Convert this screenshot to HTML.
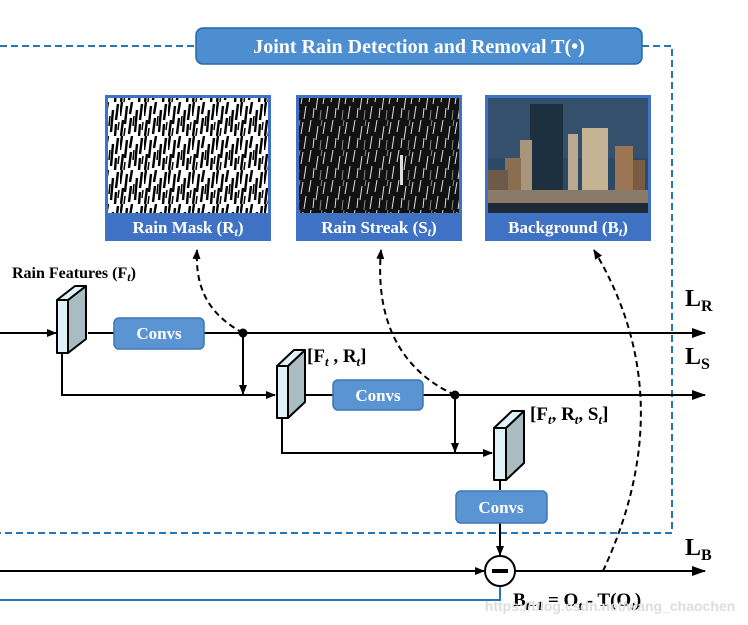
<!DOCTYPE html>
<html><head><meta charset="utf-8"><style>
html,body{margin:0;padding:0;background:#fff;}
svg{display:block;}
text{font-family:"Liberation Serif",serif;font-weight:bold;}
</style></head><body>
<svg width="748" height="625" viewBox="0 0 748 625" xmlns="http://www.w3.org/2000/svg">
<defs>
<marker id="ar" markerWidth="10" markerHeight="8" refX="9" refY="4" orient="auto" markerUnits="userSpaceOnUse">
<path d="M0,0 L10,4 L0,8 z" fill="#000"/></marker>
<marker id="ar2" markerWidth="14" markerHeight="10" refX="13" refY="5" orient="auto" markerUnits="userSpaceOnUse">
<path d="M0,0 L14,5 L0,10 z" fill="#000"/></marker>
<pattern id="mask" width="24" height="34" patternUnits="userSpaceOnUse">
<rect width="24" height="34" fill="#fff"/>
<g stroke="#000" stroke-width="2.4">
<line x1="2" y1="0" x2="0" y2="14"/><line x1="7" y1="4" x2="5" y2="22"/><line x1="12" y1="0" x2="10" y2="12"/>
<line x1="17" y1="8" x2="15" y2="30"/><line x1="22" y1="2" x2="20" y2="18"/><line x1="3" y1="18" x2="1" y2="34"/>
<line x1="11" y1="16" x2="9" y2="32"/><line x1="20" y1="22" x2="19" y2="34"/></g>
<g stroke="#000" stroke-width="1.5"><line x1="14" y1="14" x2="13" y2="24"/><line x1="5" y1="26" x2="4" y2="34"/><line x1="23" y1="20" x2="22" y2="28"/></g>
</pattern>
<pattern id="streak" width="22" height="30" patternUnits="userSpaceOnUse">
<rect width="22" height="30" fill="#111"/>
<g stroke="#ddd" stroke-width="1">
<line x1="3" y1="0" x2="1" y2="12"/><line x1="10" y1="6" x2="8" y2="20"/><line x1="17" y1="2" x2="15" y2="14"/>
<line x1="6" y1="18" x2="5" y2="28"/><line x1="20" y1="16" x2="18" y2="29"/></g>
<g stroke="#888" stroke-width="1"><line x1="13" y1="20" x2="12" y2="30"/><line x1="14" y1="0" x2="13" y2="6"/></g>
</pattern>
</defs>

<g stroke="#2477b8" stroke-width="2" fill="none" stroke-dasharray="7,4">
<path d="M0,46 H196"/><path d="M642,46 H672 V533 H0"/>
</g>
<rect x="196" y="28" width="446" height="36" rx="7" fill="#4d8ed0" stroke="#2a66a8" stroke-width="1.5"/>
<text x="419" y="53" font-size="20" fill="#fff" text-anchor="middle">Joint Rain Detection and Removal T(•)</text>

<rect x="105" y="95" width="166" height="146" fill="#3f72c4"/>
<rect x="108" y="98" width="160" height="115" fill="url(#mask)"/>
<text x="188" y="233" font-size="17" fill="#fff" text-anchor="middle">Rain Mask (R<tspan font-style="italic" font-size="12" dy="3">t</tspan><tspan dy="-3">)</tspan></text>

<rect x="296" y="95" width="166" height="146" fill="#3f72c4"/>
<rect x="299" y="98" width="160" height="115" fill="url(#streak)"/>
<rect x="400" y="155" width="3" height="30" fill="#ddd"/>
<text x="379" y="233" font-size="17" fill="#fff" text-anchor="middle">Rain Streak (S<tspan font-style="italic" font-size="12" dy="3">t</tspan><tspan dy="-3">)</tspan></text>

<rect x="485" y="95" width="166" height="146" fill="#3f72c4"/>
<rect x="488" y="98" width="160" height="115" fill="#2c4a66"/>
<rect x="488" y="98" width="160" height="60" fill="#34506c"/>
<rect x="530" y="104" width="33" height="92" fill="#1d3040"/>
<rect x="520" y="140" width="12" height="56" fill="#a8957a"/>
<rect x="505" y="158" width="16" height="38" fill="#8a6e52"/>
<rect x="568" y="134" width="10" height="60" fill="#b9a98e"/>
<rect x="582" y="128" width="26" height="70" fill="#c5b394"/>
<rect x="615" y="146" width="18" height="50" fill="#9c7652"/>
<rect x="633" y="160" width="12" height="36" fill="#7a5c44"/>
<rect x="488" y="170" width="20" height="28" fill="#6e5a48"/>
<rect x="488" y="190" width="160" height="13" fill="#8a7a6a"/>
<rect x="488" y="203" width="160" height="10" fill="#1e2a36"/>
<text x="568" y="233" font-size="17" fill="#fff" text-anchor="middle">Background (B<tspan font-style="italic" font-size="12" dy="3">t</tspan><tspan dy="-3">)</tspan></text>

<text x="12" y="278" font-size="16">Rain Features (F<tspan font-style="italic" font-size="12" dy="3">t</tspan><tspan dy="-3">)</tspan></text>
<text x="685" y="306" font-size="24">L<tspan font-size="16" dy="5">R</tspan></text>
<text x="685" y="364" font-size="24">L<tspan font-size="16" dy="5">S</tspan></text>
<text x="685" y="555" font-size="24">L<tspan font-size="16" dy="5">B</tspan></text>
<text x="307" y="362" font-size="19">[F<tspan font-style="italic" font-size="13" dy="4">t</tspan><tspan dy="-4"> , R</tspan><tspan font-style="italic" font-size="13" dy="4">t</tspan><tspan dy="-4">]</tspan></text>
<text x="530" y="420" font-size="19">[F<tspan font-style="italic" font-size="13" dy="4">t</tspan><tspan dy="-4">, R</tspan><tspan font-style="italic" font-size="13" dy="4">t</tspan><tspan dy="-4">, S</tspan><tspan font-style="italic" font-size="13" dy="4">t</tspan><tspan dy="-4">]</tspan></text>
<text x="513" y="606" font-size="19">B<tspan font-style="italic" font-size="13" dy="4">t+1</tspan><tspan dy="-4"> = O</tspan><tspan font-style="italic" font-size="13" dy="4">t</tspan><tspan dy="-4"> - T(O</tspan><tspan font-style="italic" font-size="13" dy="4">t</tspan><tspan dy="-4">)</tspan></text>

<g stroke="#000" stroke-width="2" fill="none">
<line x1="0" y1="333" x2="56" y2="333" marker-end="url(#ar)"/>
<line x1="88" y1="333" x2="705" y2="333" marker-end="url(#ar2)"/>
<line x1="243" y1="333" x2="243" y2="394" marker-end="url(#ar)"/>
<path d="M62,353 V395 H275" marker-end="url(#ar)"/>
<line x1="304" y1="395" x2="705" y2="395" marker-end="url(#ar2)"/>
<line x1="455" y1="395" x2="455" y2="452" marker-end="url(#ar)"/>
<path d="M282,418 V453 H492" marker-end="url(#ar)"/>
<line x1="500" y1="480" x2="500" y2="490"/>
<line x1="500" y1="523" x2="500" y2="555" marker-end="url(#ar)"/>
<line x1="0" y1="571" x2="484" y2="571" marker-end="url(#ar)"/>
<line x1="516" y1="571" x2="705" y2="571" marker-end="url(#ar2)"/>
</g>
<path d="M500,586 V600 H0" stroke="#2477b8" stroke-width="2" fill="none"/>
<circle cx="243" cy="333" r="4.5"/><circle cx="455" cy="395" r="4.5"/>
<circle cx="500" cy="571" r="15" fill="#fff" stroke="#000" stroke-width="2"/>
<rect x="492" y="569" width="16" height="4" fill="#000"/>

<g stroke="#000" stroke-width="2" fill="none" stroke-dasharray="6,4">
<path d="M243,333 C210,315 195,290 197,250" marker-end="url(#ar)"/>
<path d="M455,395 C400,370 375,320 381,250" marker-end="url(#ar)"/>
<path d="M603,571 C650,470 660,360 594,250" marker-end="url(#ar)"/>
</g>

<g stroke="#000" stroke-width="2" stroke-linejoin="round">
<path d="M68,300 L86,286 L86,339 L68,353 Z" fill="#a9bcc2"/>
<path d="M57,300 L75,286 L86,286 L68,300 Z" fill="#dff2f8"/>
<rect x="57" y="300" width="11" height="53" fill="#dff2f8"/>
<path d="M288,366 L305,350 L305,402 L288,418 Z" fill="#a9bcc2"/>
<path d="M277,366 L294,350 L305,350 L288,366 Z" fill="#dff2f8"/>
<rect x="277" y="366" width="11" height="52" fill="#dff2f8"/>
<path d="M506,428 L524,411 L524,463 L506,480 Z" fill="#a9bcc2"/>
<path d="M494,428 L512,411 L524,411 L506,428 Z" fill="#dff2f8"/>
<rect x="494" y="428" width="12" height="52" fill="#dff2f8"/>
</g>

<g fill="#5a94d2" stroke="#3d76b4" stroke-width="1.5">
<rect x="114" y="318" width="90" height="31" rx="5"/>
<rect x="333" y="380" width="90" height="30" rx="5"/>
<rect x="456" y="491" width="91" height="32" rx="5"/>
</g>
<g font-size="17" fill="#fff" text-anchor="middle">
<text x="159" y="339">Convs</text><text x="378" y="401">Convs</text><text x="501" y="513">Convs</text>
</g>
<text x="610" y="611" font-size="14" fill="#ddd" font-weight="normal" style="font-family:'Liberation Sans',sans-serif" text-anchor="middle">https://blog.csdn.net/wang_chaochen</text>
</svg>
</body></html>
